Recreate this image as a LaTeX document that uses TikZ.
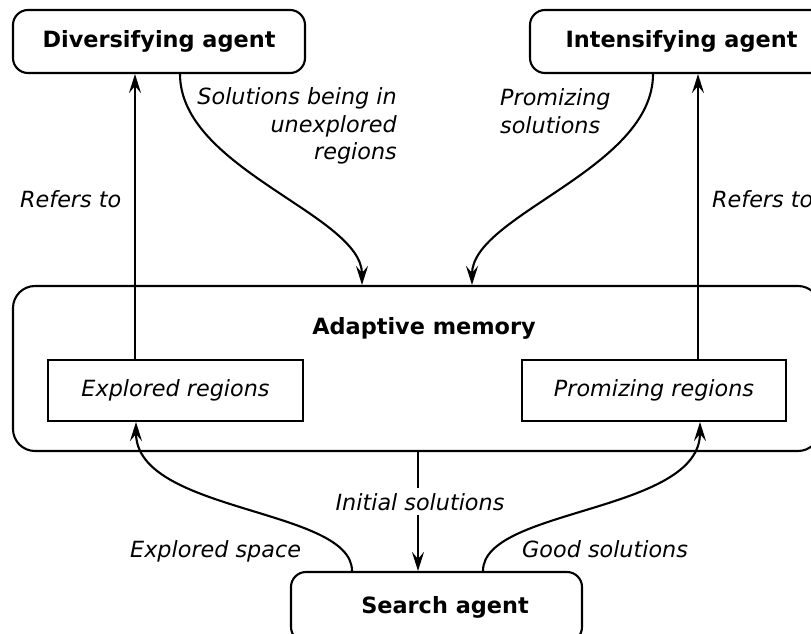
\documentclass[tikz,border=0pt]{standalone}
\usepackage{fontspec}
\setmainfont{DejaVu Sans}
\usetikzlibrary{arrows.meta}
\begin{document}
\begin{tikzpicture}[x=1pt,y=-1pt,
  lw/.style={line width=2.1pt},
  txt/.style={font=\fontsize{22.3pt}{27.5pt}\selectfont\itshape, inner sep=0pt},
  btxt/.style={font=\fontsize{22.4pt}{27.5pt}\selectfont\bfseries, inner sep=0pt},
  agent/.style={draw, lw, rounded corners=15pt, minimum height=63pt, inner sep=0pt,
    text height=16.5pt, text depth=5pt, font=\fontsize{22.4pt}{27.5pt}\selectfont\bfseries},
  region/.style={draw, lw, minimum height=61pt, inner sep=0pt,
    text height=16.5pt, text depth=5pt, font=\fontsize{22.3pt}{27.5pt}\selectfont\itshape},
  memory/.style={draw, lw, rounded corners=22pt, inner sep=0pt},
  arr/.style={lw, -{Stealth[length=19pt,width=12pt,inset=7pt]}},
]
\useasboundingbox (0,0) rectangle (811,634);

% boxes
\node[agent, minimum width=292pt] (div) at (159,41.5) {Diversifying agent};
\node[agent, minimum width=303pt] (int) at (681.5,41.5) {Intensifying agent};
\node[memory, minimum width=807pt, minimum height=165pt] (mem) at (416.5,368.5) {};
\node[btxt, anchor=base] (memtitle) at (424,334) {Adaptive memory};
\node[region, minimum width=255pt] (expl) at (175.5,390.5) {Explored regions};
\node[region, minimum width=264pt] (prom) at (654,390.5) {Promizing regions};
\node[draw, lw, rounded corners=15pt, minimum width=291pt, minimum height=70pt] (search) at (436.5,607) {};
\node[btxt, anchor=base] (searchtxt) at (445,613) {Search agent};

% refers-to arrows
\coordinate (a1) at ([xshift=-40.5pt]expl.north);
\draw[arr] (a1) -- (a1 |- div.south);
\coordinate (a2) at ([xshift=44pt]prom.north);
\draw[arr] (a2) -- (a2 |- int.south);

% curved arrows to memory
\draw[arr] ([xshift=21pt]div.south) .. controls +(0,95) and +(0,-70) .. ([xshift=-54.5pt]mem.north);
\draw[arr] ([xshift=-28.5pt]int.south) .. controls +(0,95) and +(0,-70) .. ([xshift=55.5pt]mem.north);

% from search agent
\draw[arr] ([xshift=-84.5pt]search.north) .. controls +(0,-63) and +(0,91) .. ([xshift=-39.5pt]expl.south);
\draw[arr] ([xshift=46.5pt]search.north) .. controls +(0,-63) and +(0,91) .. ([xshift=46pt]prom.south);
\coordinate (a3) at ([xshift=1.5pt]mem.south);
\draw[arr] (a3) -- (a3 |- search.north);

% labels
\node[txt, anchor=base, fill=white, inner xsep=4pt, inner ysep=5pt] (initl) at (420,510) {Initial solutions};
\node[txt, anchor=north east, align=right] (solul) at (397,87.5) {Solutions being in\\unexplored\\regions};
\node[txt, anchor=north west, align=left] (proml) at (500,88.5) {Promizing\\solutions};
\node[txt, anchor=base west] (refl) at (20,207) {Refers to};
\node[txt, anchor=base west] (refr) at (712,207) {Refers to};
\node[txt, anchor=base west] (expsp) at (130,557) {Explored space};
\node[txt, anchor=base west] (goods) at (522,557) {Good solutions};
\end{tikzpicture}
\end{document}
